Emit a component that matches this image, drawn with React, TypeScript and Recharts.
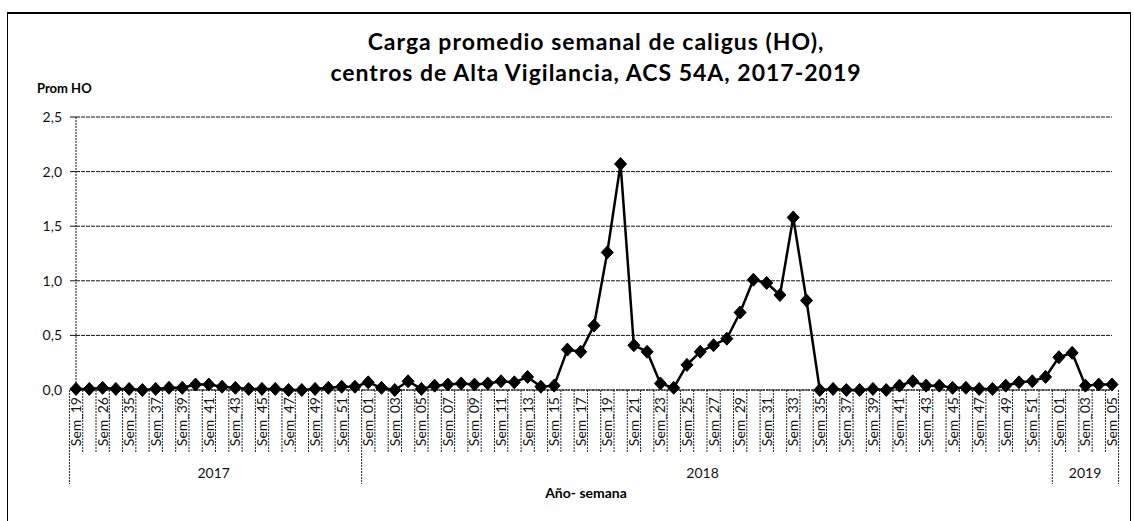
import React from "react";
import { LineChart, Line, XAxis, YAxis, CartesianGrid } from "recharts";

const weekLabels: string[] = [
  "Sem_19", "Sem_24", "Sem_26", "Sem_33", "Sem_35", "Sem_36", "Sem_37", "Sem_38", "Sem_39", "Sem_40", "Sem_41",
  "Sem_42", "Sem_43", "Sem_44", "Sem_45", "Sem_46", "Sem_47", "Sem_48", "Sem_49", "Sem_50", "Sem_51", "Sem_52",
  "Sem_01", "Sem_02", "Sem_03", "Sem_04", "Sem_05", "Sem_06", "Sem_07", "Sem_08", "Sem_09", "Sem_10",
  "Sem_11", "Sem_12", "Sem_13", "Sem_14", "Sem_15", "Sem_16", "Sem_17", "Sem_18", "Sem_19", "Sem_20",
  "Sem_21", "Sem_22", "Sem_23", "Sem_24", "Sem_25", "Sem_26", "Sem_27", "Sem_28", "Sem_29", "Sem_30",
  "Sem_31", "Sem_32", "Sem_33", "Sem_34", "Sem_35", "Sem_36", "Sem_37", "Sem_38", "Sem_39", "Sem_40",
  "Sem_41", "Sem_42", "Sem_43", "Sem_44", "Sem_45", "Sem_46", "Sem_47", "Sem_48", "Sem_49", "Sem_50",
  "Sem_51", "Sem_52",
  "Sem_01", "Sem_02", "Sem_03", "Sem_04", "Sem_05",
];

const years: string[] = ["2017", "2018", "2019"];
const yearCounts: number[] = [22, 52, 5];

const values2017: number[] = [
  0.01, 0.01, 0.02, 0.01, 0.01, 0.0, 0.01, 0.02, 0.02, 0.05, 0.05,
  0.03, 0.02, 0.01, 0.01, 0.01, 0.0, 0.0, 0.01, 0.02, 0.03, 0.03,
];
const values2018: number[] = [
  0.07, 0.02, 0.0, 0.08, 0.01, 0.04, 0.05, 0.06, 0.05, 0.06,
  0.08, 0.07, 0.12, 0.03, 0.04, 0.37, 0.35, 0.59, 1.26, 2.07,
  0.41, 0.35, 0.06, 0.02, 0.23, 0.35, 0.41, 0.47, 0.71, 1.01,
  0.98, 0.87, 1.58, 0.82, 0.0, 0.01, 0.0, 0.0, 0.01, 0.0,
  0.04, 0.08, 0.04, 0.04, 0.02, 0.02, 0.01, 0.01, 0.04, 0.07,
  0.08, 0.12,
];
const values2019: number[] = [0.3, 0.34, 0.04, 0.05, 0.05];

const yTicks: number[] = [0, 0.5, 1, 1.5, 2, 2.5];

const allValues = [...values2017, ...values2018, ...values2019];
const yearOf: string[] = [];
years.forEach((y, i) => {
  for (let k = 0; k < yearCounts[i]; k++) yearOf.push(y);
});
const data = weekLabels.map((w, i) => ({ key: `${yearOf[i]}-${w}-${i}`, week: w, year: yearOf[i], ho: allValues[i] }));

const CW = 1134;
const CH = 521;
const M = { top: 117, right: 22, bottom: 0, left: 16 };
const Y_W = 60;
const X_H = 131;
const PLOT_LEFT = M.left + Y_W;
const PLOT_RIGHT = CW - M.right;
const PLOT_BOTTOM = CH - M.bottom - X_H;
const STEP = (PLOT_RIGHT - PLOT_LEFT) / data.length;
const FONT = "Lato, 'Open Sans', sans-serif";

const groupStart: Record<number, number> = {};
{
  let s = 0;
  yearCounts.forEach((c, i) => {
    groupStart[s] = i;
    s += c;
  });
}

const XTick = (props: any) => {
  const { x, payload } = props;
  const idx: number = payload?.index ?? props.index ?? 0;
  const d = data[idx];
  const left = x - STEP / 2;
  const isYearStart = groupStart[idx] !== undefined;
  const isLast = idx === data.length - 1;
  const shortBottom = PLOT_BOTTOM + 62;
  const longBottom = PLOT_BOTTOM + 94;
  const els: React.ReactNode[] = [];
  els.push(
    <line key="l" x1={left} x2={left} y1={PLOT_BOTTOM} y2={isYearStart ? longBottom : shortBottom}
      stroke="#222" strokeWidth={1} strokeDasharray="2 1" />
  );
  if (isLast) {
    els.push(
      <line key="r" x1={x + STEP / 2} x2={x + STEP / 2} y1={PLOT_BOTTOM} y2={longBottom}
        stroke="#222" strokeWidth={1} strokeDasharray="2 1" />
    );
  }
  if (idx % 2 === 0 && d) {
    els.push(
      <text key="t" x={0} y={0} transform={`translate(${x + 5},${PLOT_BOTTOM + 7}) rotate(-90)`}
        textAnchor="end" fontSize={14} fontFamily={FONT} fill="#111">
        {d.week}
      </text>
    );
  }
  if (isYearStart) {
    const gi = groupStart[idx];
    const cx = left + (yearCounts[gi] * STEP) / 2;
    els.push(
      <text key="y" x={cx} y={PLOT_BOTTOM + 88} textAnchor="middle" fontSize={14} fontFamily={FONT} fill="#111">
        {years[gi]}
      </text>
    );
  }
  return <g>{els}</g>;
};

const YTick = (props: any) => {
  const { y, payload } = props;
  return (
    <text x={PLOT_LEFT - 14} y={y} dy={5} textAnchor="end" fontSize={14} fontFamily={FONT} fill="#111">
      {Number(payload.value).toFixed(1).replace(".", ",")}
    </text>
  );
};

const Diamond = (props: any) => {
  const { cx, cy } = props;
  if (cx == null || cy == null) return null;
  return (
    <polygon points={`${cx},${cy - 6.5} ${cx + 6},${cy} ${cx},${cy + 6.5} ${cx - 6},${cy}`} fill="#000" stroke="#000" />
  );
};

export default function App() {
  return (
    <div style={{ position: "absolute", left: 0, top: 0, width: CW, height: CH, background: "#fff", fontFamily: FONT }}>
      <div style={{ position: "absolute", left: 7, top: 12, width: 1122, height: 520, borderTop: "2px solid #000", borderLeft: "1px solid #000", borderRight: "1px solid #000" }} />
      <div style={{ position: "absolute", left: 0, top: 26, width: CW, textAlign: "center", paddingLeft: 58, boxSizing: "border-box", fontWeight: 700, fontSize: 23, letterSpacing: 1, lineHeight: "31px", color: "#000" }}>
        Carga promedio semanal de caligus (HO),
        <br />
        centros de Alta Vigilancia, ACS 54A, 2017-2019
      </div>
      <div style={{ position: "absolute", left: 37, top: 80, fontWeight: 700, fontSize: 13, color: "#000" }}>Prom HO</div>
      <div style={{ position: "absolute", left: 0, top: 484, width: CW, paddingLeft: 38, boxSizing: "border-box", textAlign: "center", fontWeight: 700, fontSize: 14, color: "#000" }}>
        Año- semana
      </div>
      <div style={{ position: "absolute", left: 0, top: 0 }}>
        <LineChart width={CW} height={CH} data={data} margin={M}>
          <CartesianGrid vertical={false} stroke="#111" strokeDasharray="4 1" horizontalValues={yTicks} />
          <XAxis dataKey="key" interval={0} height={X_H} tickLine={false} tick={<XTick />}
            axisLine={{ stroke: "#111", strokeDasharray: "2 1" }} />
          <YAxis width={Y_W} domain={[0, 2.5]} ticks={yTicks} interval={0}
            tick={<YTick />}
            tickLine={{ stroke: "#111" }} tickSize={6}
            axisLine={{ stroke: "#111", strokeDasharray: "2 1" }} />
          <Line type="linear" dataKey="ho" stroke="#000" strokeWidth={2.5} dot={<Diamond />}
            activeDot={false} isAnimationActive={false} />
        </LineChart>
      </div>
    </div>
  );
}
